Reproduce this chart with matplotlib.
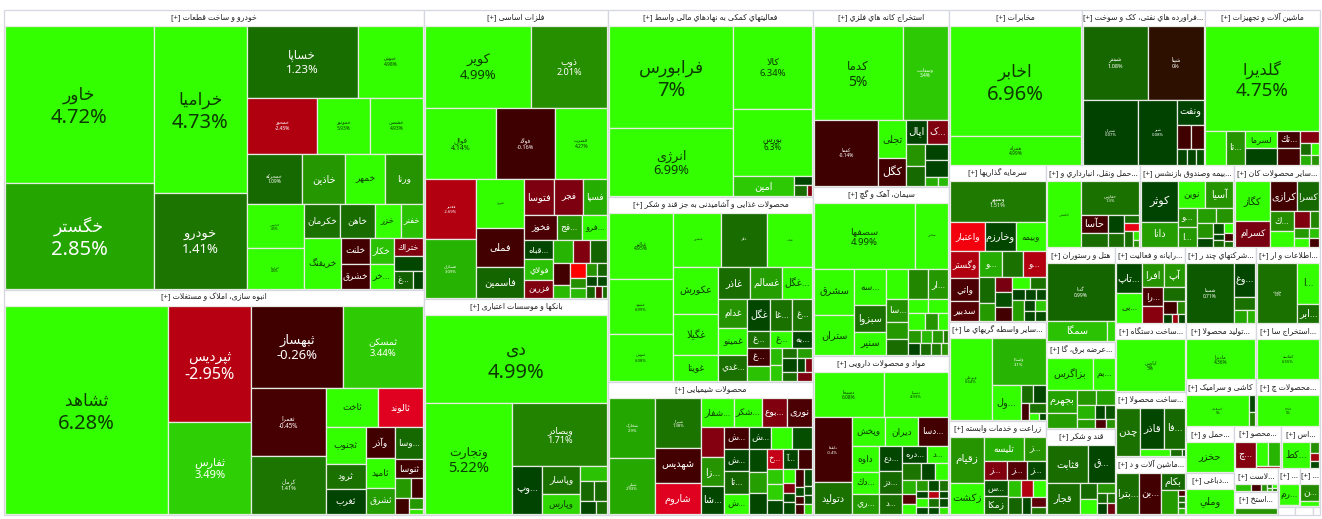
import unicodedata
from itertools import chain
import matplotlib
matplotlib.use('Agg')
import matplotlib.pyplot as plt
from matplotlib.colors import LinearSegmentedColormap, Normalize
from matplotlib.patches import Rectangle

# ---------------- data: name, percent change, market-cap weight per sector ----------------
S01_TITLE = 'خودرو و ساخت قطعات'
S01_NAMES = ['خاور','خگستر','خراميا','خودرو','خساپا','خبوش','خمحور','خموتور','خشصن','خمحرکه','خاذين','خمهر','ورنا','خپارس','خزامیا','خكرمان','خاهن','خزر','خفنر','خريفنگ','خلنت','خشرق','خكار','خر...','ختراك','','غ...','']
S01_CHANGE = [4.72,2.85,4.73,1.41,1.23,4.98,-2.45,5.93,4.93,1.09,2.3,4.5,2.2,4.5,4.6,1.3,1.2,4.2,3.3,4.4,-0.4,-0.3,3.3,4.0,-1.2,0.2,0.9,0.1]
S01_CAP = [23079,15582,15364,8832,7881,4686,3850,2915,2915,2750,2150,2000,1900,2475,2255,1220,1155,860,760,1870,730,700,620,600,510,450,323,187]

S02_TITLE = 'انبوه سازی، املاک و مستغلات'
S02_NAMES = ['ثشاهد','ثپردیس','ثفارس','ثبهساز','ثمسکن','ثعمرا','کرمان','ثاخت','ثالوند','ثجنوب','ثرود','ثغرب','وآذر','ثامید','ثشرق','وسا...','ثنوسا','','','','','']
S02_CHANGE = [6.28,-2.95,3.49,-0.26,3.44,-0.45,1.41,4.2,-3.8,4.3,1.3,0.1,-0.3,4.1,2.6,1.1,-0.4,2.4,-0.3,-0.2,2.3,3.8]
S02_CAP = [33488,9512,7544,7452,6480,4964,4234,2014,1748,1443,975,975,900,870,754,868,532,320,240,208,150,75]

S03_TITLE = 'فلزات اساسی'
S03_NAMES = ['کویر','ذوب','فوال','فولاد','فسرب','فغدیر','فسازان','فنورد','فملی','فاسمین','فتوسا','فجر','فسپا','فخوز','فج...','فرو...','قباه...','فولاي','فزرین','','','','','','','','','','','','','','','']
S03_CHANGE = [4.99,2.01,4.14,-0.16,4.27,-2.69,3.09,4.2,-0.4,1.0,-1.1,-1.1,3.0,-0.5,2.1,4.0,0.2,3.3,-1.2,3.1,-1.2,1.0,-0.4,3.2,-5.0,2.0,3.2,2.2,1.0,0.2,0.3,1.0,-0.8,1.2]
S03_CAP = [8400,6000,4900,4060,3570,3000,2900,2256,1833,1410,1015,980,840,800,625,625,532,560,504,440,374,374,336,208,238,170,153,132,120,110,100,99,77,55]

S04_TITLE = 'بانکها و موسسات اعتباری'
S04_NAMES = ['دی','وتجارت','وبصادر','وپ...','وپاسار','وپارس','','','','','']
S04_CHANGE = [4.99,5.22,1.71,0.1,1.3,3.6,3.3,1.1,1.1,0.2,1.2]
S04_CAP = [15928,9570,5890,1392,1064,760,405,266,247,208,143]

S05_TITLE = 'فعالیتهاي کمکی به نهادهاي مالی واسط'
S05_NAMES = ['فرابورس','انرژی','کالا','بورس','امین','','','']
S05_CHANGE = [7.0,6.99,6.34,6.3,3.4,0.1,1.2,-1.3]
S05_CAP = [12648,8308,6478,5214,1180,171,143,55]

S06_TITLE = 'محصولات غذایی و آشامیدنی به جز قند و شکر'
S06_NAMES = ['غبالبر','غشهد','غنوش','غبشهر','غگل','غپاك','عکورش','غگیلا','غویتا','غاذر','غسالم','غگل...','غدام','غمینو','غدي...','غگل','غا...','غ...','غ...','غ...','به...','غ...','','','','','','','','','','']
S06_CHANGE = [4.95,6.99,6.08,4.4,1.2,4.5,4.4,4.2,4.3,1.2,2.6,4.2,2.2,4.2,1.3,0.2,1.3,1.4,1.3,4.1,0.2,-0.3,3.3,3.2,3.4,1.3,2.6,0.2,1.2,0.1,-1.2,-1.1]
S06_CAP = [4224,3520,2944,2544,2438,2385,2068,1804,1144,1024,1024,960,812,783,725,713,682,620,391,374,340,391,345,192,180,150,150,195,135,104,91,135]

S07_TITLE = 'محصولات شیمیایی'
S07_NAMES = ['شخارک','شپلی','شیراز','شهدیس','شاروم','شفار...','شکر...','بوع...','نوری','','زا...','شا...','ش...','ش...','تا...','ش...','ش...','','','','','','خ...','آ...','','','','','','','','','','','','','','','','']
S07_CHANGE = [2.9,2.93,1.38,-0.4,-3.8,4.1,4.1,-1.2,-0.5,-1.3,2.2,0.2,-0.4,0.2,1.0,4.2,0.2,4.2,0.4,0.3,2.6,0.2,-3.2,0.2,-0.3,3.4,3.5,0.2,4.1,-1.2,0.3,0.3,-0.3,0.3,-0.4,-0.4,0.3,0.4,0.4,3.6]
S07_CAP = [2700,2520,2200,1540,1320,924,784,728,700,690,667,621,528,528,528,480,460,460,420,391,357,357,306,306,270,240,240,225,165,110,110,132,150,70,70,80,140,70,70,80]

S08_TITLE = 'استخراج کانه هاي فلزي'
S08_NAMES = ['کدما','وسعادت','کفما','تجلی','کگل','اپال','ک...','','','','','','']
S08_CHANGE = [5.0,3.4,-0.14,4.2,-0.4,0.1,-1.2,2.2,1.1,0.1,0.1,3.0,3.2]
S08_CAP = [8184,4185,4158,1026,729,504,504,399,380,368,368,117,90]

S09_TITLE = 'سیمان، آهک و گچ'
S09_NAMES = ['سصفها','سخزر','سشرق','ستران','سه...','سبزوا','سنیر','','','ار...','سا...','','','','','','','','','','','','','','','']
S09_CHANGE = [4.99,4.4,4.3,4.2,4.2,1.3,4.3,4.1,1.8,2.3,2.1,2.4,1.2,4.0,4.1,4.1,2.2,4.0,2.3,3.2,2.3,1.5,0.1,1.2,1.5,2.2]
S09_CAP = [6464,2112,1755,1560,1085,837,682,609,580,580,484,374,330,260,260,272,208,160,156,143,130,70,130,130,110,90]

S10_TITLE = 'مواد و محصولات دارویی'
S10_NAMES = ['دسبحا','دسینا','دلقما','دتولید','وپخش','دیران','دسا...','داوه','دك...','ري...','دع...','دز...','د...','دره...','د...','','','','','','','','','','','','','','','','','','']
S10_CHANGE = [6.08,4.93,-0.4,1.3,4.1,4.2,-0.4,4.2,4.1,2.5,0.2,1.1,1.2,0.2,4.1,1.4,0.2,4.1,3.1,-0.6,4.1,2.4,0.3,1.3,0.1,-3.0,0.2,4.0,1.3,0.3,0.2,0.3,3.8]
S10_CAP = [3036,2816,2376,1152,924,924,840,702,567,540,550,484,440,400,336,323,238,221,182,140,126,120,110,100,84,77,70,100,90,80,80,70,60]

S11_TITLE = 'مخابرات'
S11_NAMES = ['اخابر','همراه']
S11_CHANGE = [6.96,4.99]
S11_CAP = [14190,3612]

S12_TITLE = 'سرمایه گذاریها'
S12_NAMES = ['وسپهر','واعتبار','وخارزم','وبیمه','وگستر','واتي','سدبیر','و...','','و...','','','','','','','','','','','','','','','']
S12_CHANGE = [1.51,-4.5,0.2,4.2,-2.5,-0.5,-0.6,3.0,1.3,-2.6,1.1,2.4,-1.0,0.4,-0.4,4.1,1.3,0.1,0.2,0.3,2.6,0.2,3.4,0.2,0.4]
S12_CAP = [3666,986,870,841,754,638,580,572,520,546,390,270,240,240,240,204,180,132,121,99,240,110,100,110,100]

S13_TITLE = 'سایر واسطه گریهاي ما...'
S13_NAMES = ['وبوعلی','ولساپا','ول...','','','','','','']
S13_CHANGE = [6.64,3.1,4.2,1.2,0.2,-0.4,1.3,4.0,0.3]
S13_CAP = [3362,2484,972,204,221,136,170,70,42]

S14_TITLE = 'زراعت و خدمات وابسته'
S14_NAMES = ['زقیام','زكشت','تلیسه','ز...','ز...','ز...','ز...','س...','زمکا','','','','','','','']
S14_CHANGE = [2.2,4.2,3.0,2.2,-1.2,-0.6,0.3,0.6,1.0,3.3,-2.7,4.0,1.0,0.2,-0.7,1.4]
S14_CAP = [1472,992,920,483,414,342,324,368,414,221,204,204,208,144,135,90]

S15_TITLE = 'فراورده هاي نفتی، کک و سوخت...'
S15_NAMES = ['شبندر','شپنا','شتران','شیر','ونفت','','','','','']
S15_CHANGE = [1.08,0.0,0.07,0.08,0.1,-0.3,-0.3,0.2,0.2,0.4]
S15_CAP = [4745,4088,3456,2496,648,322,299,150,135,120]

S16_TITLE = 'ماشین آلات و تجهیزات'
S16_NAMES = ['گلدیرا','','تا...','لسرما','','تك...','','','','','','']
S16_CHANGE = [4.75,4.1,2.2,4.1,0.1,-0.4,-0.4,-1.3,1.2,4.0,3.0,2.2]
S16_CAP = [11639,665,630,544,512,391,368,220,121,99,99,81]

S17_TITLE = 'حمل ونقل، انبارداري و...'
S17_NAMES = ['حکشتی','حفارس','حآسا','','','','','','','','']
S17_CHANGE = [4.3,1.3,-0.4,1.2,0.1,1.2,1.1,-4.2,1.2,3.8,2.0]
S17_CAP = [2080,1829,468,338,288,208,120,120,126,50,40]

S18_TITLE = 'بیمه وصندوق بازنشس...'
S18_NAMES = ['کوثر','دانا','نوین','آسیا','و...','ا...','','','','','','','','','','']
S18_CHANGE = [0.1,2.6,4.2,2.2,2.1,2.4,2.6,2.2,2.1,0.2,0.4,0.1,1.0,4.0,-0.3,1.1]
S18_CAP = [1400,840,700,700,342,342,266,238,221,136,121,66,66,88,66,44]

S19_TITLE = 'سایر محصولات کان...'
S19_NAMES = ['کگاز','کسرام','کرازی','کسرا','ك...','','','','','','','']
S19_CHANGE = [4.3,-1.0,-0.4,1.1,2.0,4.1,-1.2,1.8,2.4,3.3,4.0,-0.4]
S19_CAP = [1326,850,756,616,420,336,255,150,144,90,128,80]

S20_TITLE = 'هتل و رستوران'
S20_NAMES = ['گدنا','سمگا','']
S20_CHANGE = [0.99,3.3,3.6]
S20_CAP = [3630,1102,152]

S21_TITLE = 'عرضه برق، گا...'
S21_NAMES = ['بزاگرس','بم...','بجهرم','','','','','','','','','']
S21_CHANGE = [4.2,4.2,2.8,2.6,2.3,2.8,3.1,0.2,0.6,2.5,-0.5,2.2]
S21_CAP = [1395,651,644,420,266,252,234,130,130,162,90,81]

S22_TITLE = 'قند و شکر'
S22_NAMES = ['قثابت','ق...','قجار','','','','','','','']
S22_CHANGE = [1.2,0.2,1.2,1.1,4.1,2.2,1.1,1.3,0.1,-0.9]
S22_CAP = [1480,962,961,272,255,170,90,80,90,80]

S23_TITLE = 'رایانه و فعالیت...'
S23_NAMES = ['تاپ...','بی...','افرا','آپ','را...','','','','','','','']
S23_CHANGE = [0.3,4.2,2.1,2.3,-0.5,-1.4,1.2,-0.3,1.8,0.1,-2.0,0.2]
S23_CAP = [725,725,483,460,380,320,273,182,91,72,48,48]

S24_TITLE = 'ساخت دستگاه...'
S24_NAMES = ['ابارس']
S24_CHANGE = [5.0]
S24_CAP = [1]

S25_TITLE = 'ساخت محصولا...'
S25_NAMES = ['چدن','قاذر','فا...','','','']
S25_CHANGE = [1.3,0.2,1.1,4.2,1.2,0.2]
S25_CAP = [1152,960,840,210,84,21]

S26_TITLE = 'ماشین آلات و د...'
S26_NAMES = ['بترا...','بن...','بکام','','','','','']
S26_CHANGE = [1.2,-0.4,1.1,2.5,-0.5,1.2,1.2,3.2]
S26_CAP = [943,902,408,384,42,42,42,42]

S27_TITLE = 'شرکتهاي چند ر...'
S27_NAMES = ['شستا','وغ...','','','']
S27_CHANGE = [0.71,0.2,1.3,2.9,3.1]
S27_CAP = [2700,693,273,156,96]

S28_TITLE = 'اطلاعات و ار...'
S28_NAMES = ['هاوپت','ا...','ابر...']
S28_CHANGE = [1.3,4.2,1.3]
S28_CAP = [2400,880,418]

S29_TITLE = 'تولید محصولا...'
S29_NAMES = ['مادیرا']
S29_CHANGE = [4.36]
S29_CAP = [1]

S30_TITLE = 'استخراج سا...'
S30_NAMES = ['کماسه']
S30_CHANGE = [6.55]
S30_CAP = [1]

S31_TITLE = 'کاشی و سرامیک'
S31_NAMES = ['کسعدی','','']
S31_CHANGE = [5.0,0.2,1.6]
S31_CAP = [1680,90,72]

S32_TITLE = 'محصولات چ...'
S32_NAMES = ['چکاپا']
S32_CHANGE = [5.0]
S32_CAP = [1]

S33_TITLE = 'حمل و...'
S33_NAMES = ['حخزر']
S33_CHANGE = [4.5]
S33_CAP = [1]

S34_TITLE = 'محصو...'
S34_NAMES = ['چ...','','','']
S34_CHANGE = [-1.3,4.2,3.1,-2.2]
S34_CAP = [480,264,264,48]

S35_TITLE = 'اس...'
S35_NAMES = ['کط...','','','']
S35_CHANGE = [4.2,2.0,-2.0,0.2]
S35_CAP = [676,90,72,54]

S36_TITLE = 'دباغی...'
S36_NAMES = ['وملي']
S36_CHANGE = [4.6]
S36_CAP = [1]

S37_TITLE = 'لاست...'
S37_NAMES = ['','','','','','','']
S37_CHANGE = [3.3,-0.4,2.2,1.2,4.0,3.0,1.1]
S37_CAP = [154,99,66,25,25,25,25]

S38_TITLE = 'استخ...'
S38_NAMES = ['']
S38_CHANGE = [2.2]
S38_CAP = [1]

S39_TITLE = '...'
S39_NAMES = ['رم...','']
S39_CHANGE = [4.2,0.9]
S39_CAP = [440,20]

S40_TITLE = '...'
S40_NAMES = ['ن...','']
S40_CHANGE = [1.9,4.1]
S40_CAP = [300,100]

SECTOR_CAP = [117600,94500,53176,39744,38335,37925,27265,24072,22984,21624,
              20746,19065,17980,15229,9603,9118,7708,7708,7052,6555,6003,5934,
              5320,5396,4864,4830,4550,4060,3920,3584,3290,3008,2256,2016,
              1974,1638,1032,989,819,780,136,136,56]

# ---------------- nesting of the treemap: lists alternate horizontal / vertical, n = n leaves ----------------
S01_TREE = [[2],[2],[[2],[3],[4],[[2],[[4],[1,[2],[2],[2,[2]]]]]]]
S02_TREE = [1,[2],[[2],[[2],[[2],[[3],[3],[2,[2],[1,[2]]]]]]]]
S03_TREE = [[[2],[3],[[2],[3],[[3],[3],[[3],[[3],[[2],[3],[[2],[2],[3]]]]]]]]]
S04_TREE = [[1,[1,[1,[1,[2],[1,[2],[2]]]]]]]
S05_TREE = [[2],[2,[1,[1,[2]]]]]
S06_TREE = [[3],[[3],[[3],[[3],[[3],[[3],[3],[[2],[2],[[2],[[2],[[2],1]]]]]]]]]]
S07_TREE = [[2],[3],[[4],[[3],[4],[[3],[[3],[[3],[[3],[4],[4],[4]]]]]]]]
S08_TREE = [[[2],[1,[2],[[2],[[2],[2,[2]]]]]]]
S09_TREE = [[[2],[[2],[3],[[3],[[3],[[2],[3],[4],[4]]]]]]]
S10_TREE = [[[2],[[2],[[3],[[3],[3],[[2],[3],[[3],[[3],[3],[3],[3]]]]]]]]]
S11_TREE = [[2]]
S12_TREE = [[1,[3],[[3],[[3],[[2],[3],[[2],[3],[1,[[2],[2]]]]]]]]]
S13_TREE = [1,[1,[1,[[2],[1,[1,[2]]]]]]]
S14_TREE = [[2],[[2],[3],[[2],[[3],[2,[2]]]]]]
S15_TREE = [[[2],[2,[1,[2],[3]]]]]
S16_TREE = [[1,[2,[2],[2],[1,[2],[2]]]]]
S17_TREE = [1,[1,[[2],[2],[2,[1,[2]]]]]]
S18_TREE = [[2],[[2],[[2],[[2],[[2],[3],[3]]]]]]
S19_TREE = [[2],[[2],[[2],[[2],[2],[2]]]]]
S20_TREE = [[1,[2]]]
S21_TREE = [[[2],[[2],[[2],[3],[3]]]]]
S22_TREE = [[[2],[1,[2],[1,[2],[2]]]]]
S23_TREE = [[2],[[2],[[2],[1,[2],[3]]]]]
S24_TREE = [1]
S25_TREE = [1,[[2],[3]]]
S26_TREE = [2,[1,[1,[4]]]]
S27_TREE = [1,[2,[2]]]
S28_TREE = [1,[2]]
S29_TREE = [1]
S30_TREE = [1]
S31_TREE = [1,[2]]
S32_TREE = [1]
S33_TREE = [1]
S34_TREE = [1,[[2],1]]
S35_TREE = [1,[3]]
S36_TREE = [1]
S37_TREE = [3,[[2],[2]]]
S38_TREE = [1]
S39_TREE = [[2]]
S40_TREE = [[2]]
TOP_TREE = [[2],[2],[3],[3],[[3],[[3],[[3],[[3],[[3],[[3],[[2],[2],[[2],[[2],[[2],[[2],[3]]]]]]]]]]]]]

# ---------------- label sizes in points: negative = name only, positive = name and percent, 0 = none ----------------
S01_FS = [14.5,14.5,14.5,9.4,8.3,3.5,3.5,3.5,3.5,3.5,-7,-6.5,-6.5,2.5,2.5,-6.5,-6.5,-6,-6,-6.5,-6.5,-6.5,-6.5,-6.5,-6,0,-6,0]
S02_FS = [14.5,11.6,8,9.4,6.8,4.5,4,-6.5,-6.5,-6.5,-6.5,-6.5,-6.5,-6.5,-6.5,-6.5,-6.5,0,0,0,0,0]
S03_FS = [9.4,6.5,5,4,3.5,3,3,-2.5,-7,-7,-7,-6.5,-6.5,-6.5,-6.5,-6,-6,-6,-6,0,0,0,0,0,0,0,0,0,0,0,0,0,0,0]
S04_FS = [14.5,10.5,6.5,-7,-6.5,-6.5,0,0,0,0,0]
S05_FS = [14.5,9.2,6.8,5.8,-7,0,0,0]
S06_FS = [3.5,3,3,-2.5,-2.5,-2.5,-7,-7,-6.5,-7,-7,-7,-6.5,-6.5,-6.5,-7,-6.5,-6.5,-6.5,-6.5,-6.5,-6.5,0,0,0,0,0,0,0,0,0,0]
S07_FS = [3,3,3,-7,-7,-6.5,-6.5,-6.5,-7,0,-7,-7,-6.5,-6.5,-6.5,-6.5,-6.5,0,0,0,0,0,-6,-6,0,0,0,0,0,0,0,0,0,0,0,0,0,0,0,0]
S08_FS = [10,3.5,3.5,-7,-8,-7.5,-7,0,0,0,0,0,0]
S09_FS = [6.8,-2.5,-7,-7,-6.5,-7,-7,0,0,-6.5,-6.5,0,0,0,0,0,0,0,0,0,0,0,0,0,0,0]
S10_FS = [3.5,3,3,-7,-6.5,-6.5,-6.5,-6.5,-6.5,-6.5,-6,-6,-6,-6,-6,0,0,0,0,0,0,0,0,0,0,0,0,0,0,0,0,0,0]
S11_FS = [14.5,3.5]
S12_FS = [4,-6.5,-7,-6,-6.5,-6.5,-6.5,-6.5,0,-6.5,0,0,0,0,0,0,0,0,0,0,0,0,0,0,0]
S13_FS = [3,3,-7,0,0,0,0,0,0]
S14_FS = [-7.5,-7.5,-6.5,-6.5,-6.5,-6.5,-6.5,-6,-6.5,0,0,0,0,0,0,0]
S15_FS = [4,4,3,3,-7,0,0,0,0,0]
S16_FS = [13.5,0,-6.5,-6,0,-6.5,0,0,0,0,0,0]
S17_FS = [-2.5,3,-7,0,0,0,0,0,0,0,0]
S18_FS = [-8,-7,-6.5,-7,-6.5,-6.5,0,0,0,0,0,0,0,0,0,0]
S19_FS = [-7,-6.5,-7,-6.5,-6.5,0,0,0,0,0,0,0]
S20_FS = [3.5,-7,0]
S21_FS = [-7,-6.5,-7,0,0,0,0,0,0,0,0,0]
S22_FS = [-7,-7,-7,0,0,0,0,0,0,0]
S23_FS = [-7,-6,-7,-7,-6.5,0,0,0,0,0,0,0]
S24_FS = [3.5]
S25_FS = [-7.5,-7.5,-7,0,0,0]
S26_FS = [-7,-7,-7,0,0,0,0,0]
S27_FS = [3.5,-7,0,0,0]
S28_FS = [2.5,-7,-7]
S29_FS = [3.5]
S30_FS = [3]
S31_FS = [2.5,0,0]
S32_FS = [2.5]
S33_FS = [-7]
S34_FS = [-7,0,0,0]
S35_FS = [-7,0,0,0]
S36_FS = [-7]
S37_FS = [0,0,0,0,0,0,0]
S38_FS = [0]
S39_FS = [-6.5,0]
S40_FS = [-6.5,0]

SECTORS = [
    (S01_TITLE,S01_NAMES,S01_CHANGE,S01_CAP,S01_TREE,S01_FS),(S02_TITLE,S02_NAMES,S02_CHANGE,S02_CAP,S02_TREE,S02_FS),
    (S03_TITLE,S03_NAMES,S03_CHANGE,S03_CAP,S03_TREE,S03_FS),(S04_TITLE,S04_NAMES,S04_CHANGE,S04_CAP,S04_TREE,S04_FS),
    (S05_TITLE,S05_NAMES,S05_CHANGE,S05_CAP,S05_TREE,S05_FS),(S06_TITLE,S06_NAMES,S06_CHANGE,S06_CAP,S06_TREE,S06_FS),
    (S07_TITLE,S07_NAMES,S07_CHANGE,S07_CAP,S07_TREE,S07_FS),(S08_TITLE,S08_NAMES,S08_CHANGE,S08_CAP,S08_TREE,S08_FS),
    (S09_TITLE,S09_NAMES,S09_CHANGE,S09_CAP,S09_TREE,S09_FS),(S10_TITLE,S10_NAMES,S10_CHANGE,S10_CAP,S10_TREE,S10_FS),
    (S11_TITLE,S11_NAMES,S11_CHANGE,S11_CAP,S11_TREE,S11_FS),(S15_TITLE,S15_NAMES,S15_CHANGE,S15_CAP,S15_TREE,S15_FS),
    (S16_TITLE,S16_NAMES,S16_CHANGE,S16_CAP,S16_TREE,S16_FS),(S12_TITLE,S12_NAMES,S12_CHANGE,S12_CAP,S12_TREE,S12_FS),
    (S13_TITLE,S13_NAMES,S13_CHANGE,S13_CAP,S13_TREE,S13_FS),(S14_TITLE,S14_NAMES,S14_CHANGE,S14_CAP,S14_TREE,S14_FS),
    (S17_TITLE,S17_NAMES,S17_CHANGE,S17_CAP,S17_TREE,S17_FS),(S18_TITLE,S18_NAMES,S18_CHANGE,S18_CAP,S18_TREE,S18_FS),
    (S19_TITLE,S19_NAMES,S19_CHANGE,S19_CAP,S19_TREE,S19_FS),(S20_TITLE,S20_NAMES,S20_CHANGE,S20_CAP,S20_TREE,S20_FS),
    (S21_TITLE,S21_NAMES,S21_CHANGE,S21_CAP,S21_TREE,S21_FS),(S22_TITLE,S22_NAMES,S22_CHANGE,S22_CAP,S22_TREE,S22_FS),
    (S23_TITLE,S23_NAMES,S23_CHANGE,S23_CAP,S23_TREE,S23_FS),(S27_TITLE,S27_NAMES,S27_CHANGE,S27_CAP,S27_TREE,S27_FS),
    (S28_TITLE,S28_NAMES,S28_CHANGE,S28_CAP,S28_TREE,S28_FS),(S24_TITLE,S24_NAMES,S24_CHANGE,S24_CAP,S24_TREE,S24_FS),
    (S25_TITLE,S25_NAMES,S25_CHANGE,S25_CAP,S25_TREE,S25_FS),(S26_TITLE,S26_NAMES,S26_CHANGE,S26_CAP,S26_TREE,S26_FS),
    (S29_TITLE,S29_NAMES,S29_CHANGE,S29_CAP,S29_TREE,S29_FS),(S30_TITLE,S30_NAMES,S30_CHANGE,S30_CAP,S30_TREE,S30_FS),
    (S31_TITLE,S31_NAMES,S31_CHANGE,S31_CAP,S31_TREE,S31_FS),(S32_TITLE,S32_NAMES,S32_CHANGE,S32_CAP,S32_TREE,S32_FS),
    (S33_TITLE,S33_NAMES,S33_CHANGE,S33_CAP,S33_TREE,S33_FS),(S36_TITLE,S36_NAMES,S36_CHANGE,S36_CAP,S36_TREE,S36_FS),
    (S34_TITLE,S34_NAMES,S34_CHANGE,S34_CAP,S34_TREE,S34_FS),(S35_TITLE,S35_NAMES,S35_CHANGE,S35_CAP,S35_TREE,S35_FS),
    (S37_TITLE,S37_NAMES,S37_CHANGE,S37_CAP,S37_TREE,S37_FS),(S38_TITLE,S38_NAMES,S38_CHANGE,S38_CAP,S38_TREE,S38_FS),
    (S39_TITLE,S39_NAMES,S39_CHANGE,S39_CAP,S39_TREE,S39_FS),(S40_TITLE,S40_NAMES,S40_CHANGE,S40_CAP,S40_TREE,S40_FS),
    None,None,None,
]

# ---------------- Arabic shaping (matplotlib draws glyphs left to right, unjoined) ----------------
FORMS = {}
for cp in chain(range(0xFB50, 0xFE00), range(0xFE70, 0xFEFD)):
    dec = unicodedata.decomposition(chr(cp))
    if dec.startswith('<'):
        parts = dec.split()
        key = ''.join(chr(int(c, 16)) for c in parts[1:])
        FORMS.setdefault(key, {}).setdefault(parts[0], chr(cp))
RIGHT_ONLY = set('اآأإدذرزژوؤة')
ALEFS = set('اآأإ')

def is_letter(c):
    return c in FORMS and '<isolated>' in FORMS[c]

def dual(c):
    return is_letter(c) and c not in RIGHT_ONLY

def shape(text):
    out = []
    i = 0
    n = len(text)
    while i < n:
        c = text[i]
        prev_join = i > 0 and dual(text[i - 1])
        if c == 'ل' and i + 1 < n and text[i + 1] in ALEFS:
            forms = FORMS[c + text[i + 1]]
            out.append(forms['<final>' if prev_join else '<isolated>'])
            i += 2
            continue
        if not is_letter(c):
            out.append(c)
            i += 1
            continue
        next_join = dual(c) and i + 1 < n and is_letter(text[i + 1])
        tag = ('<medial>' if next_join else '<final>') if prev_join else ('<initial>' if next_join else '<isolated>')
        out.append(FORMS[c].get(tag, c))
        i += 1
    return ''.join(reversed(out))

def visual(text):
    if text.endswith('...'):
        return shape(text[:-3]) + '...'
    return shape(text)

# ---------------- colour scale ----------------
LO, HI = -5.0, 5.0
ANCHORS = [(-5.0,'#ff0000'),(-3.8,'#e00020'),(-2.9,'#b40010'),(-2.4,'#b00010'),(-1.0,'#780010'),
           (-0.4,'#420000'),(0.0,'#3c0000'),(0.01,'#004000'),(0.3,'#034a00'),(1.0,'#146400'),(1.4,'#1c7500'),
           (2.0,'#258f00'),(2.9,'#24a600'),(3.45,'#2ecc05'),(3.7,'#2fdf00'),(4.0,'#33ff00'),(5.0,'#33ff00')]
cmap = LinearSegmentedColormap.from_list('market', [((v - LO) / (HI - LO), c) for v, c in ANCHORS], N=2048)
norm = Normalize(LO, HI)

# ---------------- layout ----------------
def build(tree, caps, counter):
    kids = []
    for t in tree:
        if isinstance(t, int):
            for _ in range(t):
                i = next(counter)
                kids.append((caps[i], i))
        else:
            kids.append(build(t, caps, counter))
    return (sum(k[0] for k in kids), kids)

def place(node, x0, y0, x1, y1, depth, out):
    total, kids = node
    pos = x0 if depth % 2 == 0 else y0
    for w, body in kids:
        span = (x1 - x0 if depth % 2 == 0 else y1 - y0) * w / total
        if depth % 2 == 0:
            box = (pos, y0, pos + span, y1)
        else:
            box = (x0, pos, x1, pos + span)
        if isinstance(body, int):
            out[body] = box
        else:
            place((w, body), *box, depth + 1, out)
        pos += span

def layout(tree, caps, box):
    out = {}
    node = build(tree, caps, iter(range(len(caps))))
    place(node, *box, 0, out)
    assert len(out) == len(caps), (len(out), len(caps), caps[:3])
    return out

# ---------------- draw ----------------
FAM = ['Noto Sans', 'DejaVu Sans']
W, H = 1322, 519
fig = plt.figure(figsize=(W / 100, H / 100), dpi=100, facecolor='white')
ax = fig.add_axes([0, 0, 1, 1])
ax.set_xlim(0, W)
ax.set_ylim(H, 0)
ax.axis('off')

CELL_EDGE = '#e6ece4'
SECTOR_EDGE = '#d4d6e0'
HEADER_H = 16
ROOT = (4, 9.5, 1320, 514.5)
PX_PER_PT = 100 / 72

sector_boxes = layout(TOP_TREE, SECTOR_CAP, ROOT)
for si, sec in enumerate(SECTORS):
    x0, y0, x1, y1 = sector_boxes[si]
    frame = Rectangle((x0, y0), x1 - x0, y1 - y0, fc='white', ec=SECTOR_EDGE, lw=0.9, zorder=1)
    ax.add_patch(frame)
    if sec is None:
        continue
    title, names, change, caps, tree, sizes = sec
    assert len(names) == len(change) == len(caps) == len(sizes), (title, len(names), len(change), len(caps), len(sizes))
    t = ax.text((x0 + x1) / 2, y0 + HEADER_H / 2 - 0.5, '[+] ' + visual(title), ha='center', va='center',
                fontsize=5.6, color='#222222', family=FAM, zorder=4)
    t.set_clip_path(frame)
    cells = layout(tree, caps, (x0 + 0.7, y0 + HEADER_H, x1 - 0.7, y1 - 0.7))
    for i in range(len(caps)):
        cx0, cy0, cx1, cy1 = cells[i]
        rect = Rectangle((cx0, cy0), cx1 - cx0, cy1 - cy0, fc=cmap(norm(change[i])), ec=CELL_EDGE, lw=0.9, zorder=2)
        ax.add_patch(rect)
        fs = sizes[i]
        if fs == 0 or not names[i]:
            continue
        tc = '#0d3a00' if change[i] >= 3.6 else 'white'
        mx, my = (cx0 + cx1) / 2, (cy0 + cy1) / 2
        label = visual(names[i])
        if fs > 0:
            em = fs * PX_PER_PT
            name_fs = fs * (0.85 if fs >= 10 else 1.0)
            a = ax.text(mx, my - 0.2 * em, label, ha='center', va='baseline', fontsize=name_fs,
                        color=tc, family=FAM, zorder=3)
            b = ax.text(mx, my + 0.96 * em, f'{change[i]:g}%', ha='center', va='baseline', fontsize=fs,
                        color=tc, family=FAM, zorder=3)
            a.set_clip_path(rect)
            b.set_clip_path(rect)
        else:
            a = ax.text(mx, my, label, ha='center', va='center', fontsize=-fs, color=tc, family=FAM, zorder=3)
            a.set_clip_path(rect)

fig.savefig('out.png', dpi=100, facecolor='white')
